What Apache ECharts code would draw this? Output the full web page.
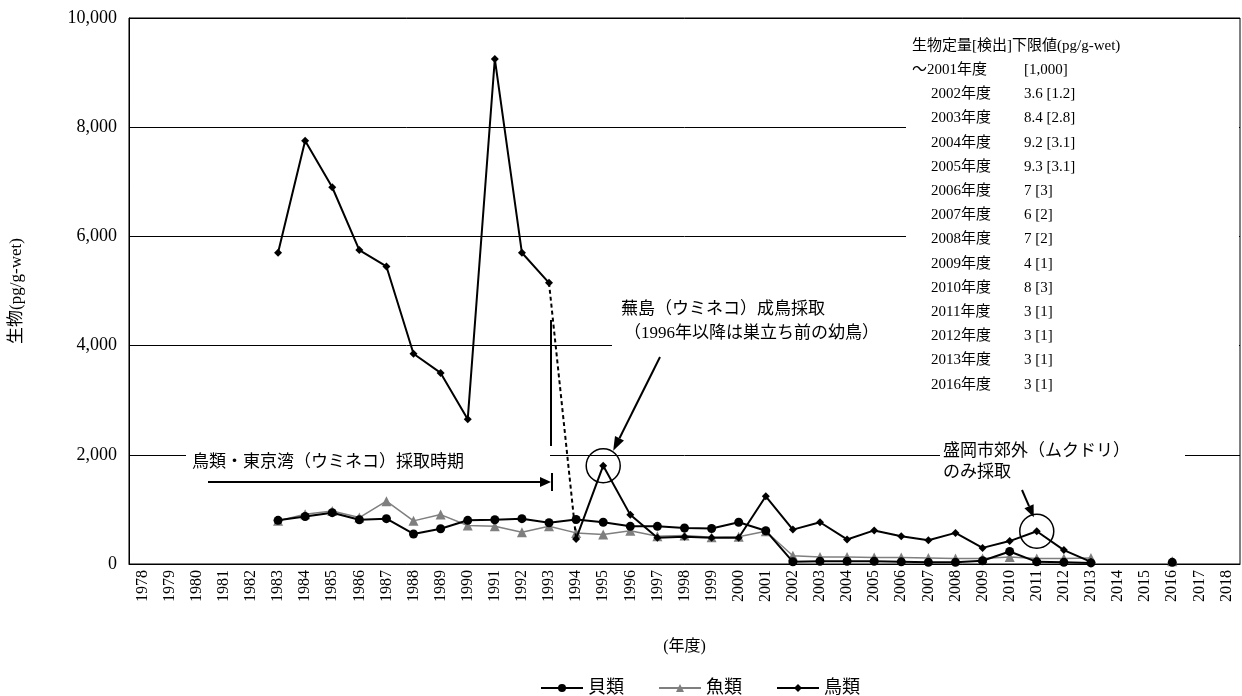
<!DOCTYPE html>
<html><head><meta charset="utf-8">
<script src="https://cdn.jsdelivr.net/npm/echarts@6/dist/echarts.min.js"></script>
<style>html,body{margin:0;padding:0;background:#fff}#c{width:1242px;height:696px}</style>
</head><body><div id="c"></div>
<script>
const N = null;
const years = ['1978','1979','1980','1981','1982','1983','1984','1985','1986','1987','1988','1989','1990','1991','1992','1993','1994','1995','1996','1997','1998','1999','2000','2001','2002','2003','2004','2005','2006','2007','2008','2009','2010','2011','2012','2013','2014','2015','2016','2017','2018'];
// 貝類
const shellfish = [N,N,N,N,N, 800,870,940,810,830,550,645,800,810,830, 755,815,765,690,690,660,650,765,610,40, 50,50,50,40,30,30,60,230,40,30, 20, N,N, 30, N,N];
// 魚類
const fish = [N,N,N,N,N, 790,910,970,850,1150,790,905,705,690,580, 690,570,540,610,510,520,490,500,600,150, 130,130,120,120,110,100,100,130,100,100, 110, N,N, 50, N,N];
// 鳥類 (東京湾 1983-1993)
const birdTokyo = [N,N,N,N,N, 5700,7750,6900,5750,5450,3850,3500,2650,9250,5700, 5150, N,N,N,N,N,N,N,N,N,N,N,N,N,N,N,N,N,N,N,N,N,N,N,N,N];
// 鳥類 (1994-2013)
const birdLater = [N,N,N,N,N,N,N,N,N,N,N,N,N,N,N,N, 460,1800,900,480,500,480,480,1240,630,765, 450,615,510,435,570,295,420,600,255,40, N,N,N,N,N];
const yTicks = [0,2000,4000,6000,8000,10000];
const limitHeader = '生物定量[検出]下限値(pg/g-wet)';
const limitYears = ['～2001年度','2002年度','2003年度','2004年度','2005年度','2006年度','2007年度','2008年度','2009年度','2010年度','2011年度','2012年度','2013年度','2016年度'];
const limitValues = ['[1,000]','3.6 [1.2]','8.4 [2.8]','9.2 [3.1]','9.3 [3.1]','7 [3]','6 [2]','7 [2]','4 [1]','8 [3]','3 [1]','3 [1]','3 [1]','3 [1]'];

const FF = '"Liberation Serif","Noto Sans CJK JP",serif';
const JF = '"Liberation Serif","Noto Sans CJK JP",sans-serif';
const chart = echarts.init(document.getElementById('c'));
const link = years.map((y,i)=> i===15 ? birdTokyo[15] : (i===16 ? birdLater[16] : null));

chart.setOption({
  animation:false,
  backgroundColor:'#fff',
  grid:{left:128,right:2,top:18,bottom:132,show:true,borderColor:'#000',borderWidth:1},
  legend:{
    data:['貝類','魚類','鳥類'],
    left:535, top:674, itemWidth:42, itemHeight:10, itemGap:34,
    textStyle:{fontSize:18,fontFamily:JF,color:'#000'}
  },
  xAxis:{
    type:'category', data:years, boundaryGap:true,
    name:'(年度)', nameLocation:'middle', nameGap:75,
    nameTextStyle:{fontSize:16,fontFamily:JF,color:'#000'},
    axisLine:{lineStyle:{color:'#000',width:1}},
    axisTick:{show:false},
    axisLabel:{interval:0,rotate:90,fontSize:16,fontFamily:FF,color:'#000',margin:6}
  },
  yAxis:{
    type:'value', min:yTicks[0], max:yTicks[yTicks.length-1], interval:2000,
    name:'生物(pg/g-wet)', nameLocation:'middle', nameGap:104,
    nameTextStyle:{fontSize:17,fontFamily:JF,color:'#000'},
    axisLine:{show:true,lineStyle:{color:'#000',width:1}},
    axisTick:{show:false},
    splitLine:{lineStyle:{color:'#000',width:1}},
    axisLabel:{fontSize:18,fontFamily:FF,color:'#000',margin:12,
      formatter:v=>v.toLocaleString('en-US')}
  },
  series:[
    {name:'魚類',type:'line',data:fish,color:'#7f7f7f',symbol:'triangle',symbolSize:10,
      lineStyle:{width:1.5,color:'#7f7f7f'},itemStyle:{color:'#7f7f7f'},z:2},
    {name:'貝類',type:'line',data:shellfish,color:'#000',symbol:'circle',symbolSize:9,
      lineStyle:{width:2,color:'#000'},itemStyle:{color:'#000'},z:3},
    {name:'鳥類',type:'line',data:birdTokyo,color:'#000',symbol:'diamond',symbolSize:8,
      lineStyle:{width:2,color:'#000'},itemStyle:{color:'#000'},z:4},
    {name:'鳥類',type:'line',data:birdLater,color:'#000',symbol:'diamond',symbolSize:8,
      lineStyle:{width:2,color:'#000'},itemStyle:{color:'#000'},z:4},
    {name:'link',type:'line',data:link,symbol:'none',
      lineStyle:{width:2,color:'#000',type:[4,3]},z:4}
  ]
});

function arrow(x1,y1,x2,y2,len,w){
  const a=Math.atan2(y2-y1,x2-x1);
  const bx=x2-len*Math.cos(a), by=y2-len*Math.sin(a);
  const nx=-Math.sin(a)*w, ny=Math.cos(a)*w;
  return [
    {type:'line',z:6,shape:{x1:x1,y1:y1,x2:bx,y2:by},style:{stroke:'#000',lineWidth:2}},
    {type:'polygon',z:6,shape:{points:[[x2,y2],[bx+nx,by+ny],[bx-nx,by-ny]]},style:{fill:'#000'}}
  ];
}
function txt(t,x,y,size,extra){
  return Object.assign({type:'text',z:7,style:{text:t,x:x,y:y,fill:'#000',
    font:size+'px '+JF,verticalAlign:'middle'}},extra||{});
}
const c95 = chart.convertToPixel({xAxisIndex:0,yAxisIndex:0},['1995',birdLater[17]]);
const c11 = chart.convertToPixel({xAxisIndex:0,yAxisIndex:0},['2011',birdLater[33]]);
const x93 = chart.convertToPixel({xAxisIndex:0},'1993');

const g = [
  {type:'rect',z:1,shape:{x:906,y:28,width:333,height:368},style:{fill:'#fff'}},
  {type:'rect',z:1,shape:{x:612,y:296,width:294,height:52},style:{fill:'#fff'}},
  {type:'rect',z:1,shape:{x:186,y:447,width:364,height:26},style:{fill:'#fff'}},
  {type:'rect',z:1,shape:{x:940,y:440,width:245,height:46},style:{fill:'#fff'}},
  {type:'circle',z:6,shape:{cx:c95[0],cy:c95[1],r:17},style:{fill:'none',stroke:'#000',lineWidth:1.5}},
  {type:'circle',z:6,shape:{cx:c11[0],cy:c11[1],r:17},style:{fill:'none',stroke:'#000',lineWidth:1.5}},
  {type:'line',z:6,shape:{x1:x93+2,y1:320,x2:x93+2,y2:446},style:{stroke:'#000',lineWidth:2}},
  {type:'line',z:6,shape:{x1:x93+3,y1:473,x2:x93+3,y2:491},style:{stroke:'#000',lineWidth:2}},
  ...arrow(208,482,x93+2,482,11,5),
  ...arrow(660,357,c95[0]+10,c95[1]-15,14,5),
  ...arrow(1022,490,c11[0]-3,c11[1]-14,12,5),
  txt('鳥類・東京湾（ウミネコ）採取時期',192,463,17),
  txt('蕪島（ウミネコ）成鳥採取',621,310,17),
  txt('（1996年以降は巣立ち前の幼鳥）',624,334,17),
  txt('盛岡市郊外（ムクドリ）',943,452,17),
  txt('のみ採取',943,473,17),
  txt(limitHeader,912,46,15)
];
limitYears.forEach((t,i)=>{
  const y = 70 + i*24.2;
  g.push(txt(t, i===0?912:931, y, 15));
  g.push(txt(limitValues[i], 1024, y, 15));
});
chart.setOption({graphic:g});
</script></body></html>
